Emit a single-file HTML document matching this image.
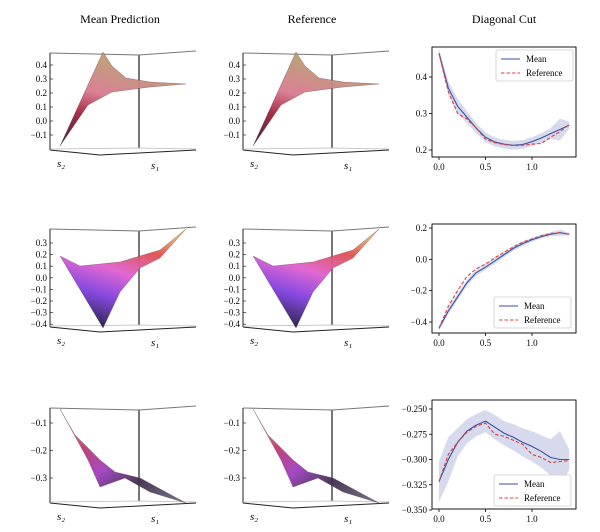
<!DOCTYPE html>
<html><head><meta charset="utf-8">
<style>
body{margin:0;background:#fff;}
svg{display:block;font-family:"Liberation Serif",serif;}
</style></head>
<body>
<svg id="fig" width="600" height="532" viewBox="0 0 600 532">
<defs>
<linearGradient id="g1" x1="0" y1="1" x2="0.3" y2="0">
<stop offset="0" stop-color="#2a2040"/><stop offset="0.35" stop-color="#a0203a"/><stop offset="0.6" stop-color="#d87a90"/><stop offset="1" stop-color="#b8a070"/>
</linearGradient>
<linearGradient id="g2" x1="0.3" y1="1" x2="0.7" y2="0">
<stop offset="0" stop-color="#201840"/><stop offset="0.3" stop-color="#8040e0"/><stop offset="0.55" stop-color="#e060d0"/><stop offset="0.8" stop-color="#e05050"/><stop offset="1" stop-color="#e0b070"/>
</linearGradient>
<linearGradient id="g3" x1="0" y1="0" x2="1" y2="1">
<stop offset="0" stop-color="#d8b890"/><stop offset="0.3" stop-color="#c03870"/><stop offset="0.5" stop-color="#a040c0"/><stop offset="0.7" stop-color="#403050"/><stop offset="1" stop-color="#707080"/>
</linearGradient>
</defs>
<text x="120" y="23" font-size="12" text-anchor="middle">Mean Prediction</text>
<text x="312" y="23" font-size="12" text-anchor="middle">Reference</text>
<text x="504" y="23" font-size="12" text-anchor="middle">Diagonal Cut</text>
<g id="surf"></g>
<g id="cuts"></g>
</svg>
<script>
// ---- Diagonal cut data ----
const xs = [0,0.1,0.2,0.3,0.4,0.5,0.6,0.7,0.8,0.9,1.0,1.1,1.2,1.3,1.4];
const mean1 = [0.465,0.37,0.32,0.29,0.26,0.235,0.222,0.216,0.213,0.215,0.223,0.233,0.245,0.256,0.268];
const ref1  = [0.465,0.36,0.30,0.285,0.26,0.23,0.22,0.215,0.212,0.213,0.216,0.218,0.235,0.25,0.27];
const std1  = [0.012,0.018,0.02,0.016,0.014,0.013,0.012,0.012,0.012,0.012,0.012,0.013,0.015,0.03,0.01];
const mean2 = [-0.44,-0.33,-0.24,-0.15,-0.085,-0.05,-0.01,0.03,0.07,0.10,0.125,0.145,0.16,0.17,0.16];
const ref2  = [-0.44,-0.30,-0.20,-0.11,-0.06,-0.03,0.01,0.045,0.08,0.11,0.13,0.15,0.165,0.17,0.16];
const std2  = [0.015,0.02,0.02,0.02,0.02,0.018,0.017,0.016,0.015,0.014,0.013,0.013,0.013,0.02,0.008];
const mean3 = [-0.322,-0.30,-0.283,-0.272,-0.266,-0.262,-0.268,-0.274,-0.278,-0.283,-0.287,-0.292,-0.298,-0.30,-0.30];
const ref3  = [-0.322,-0.295,-0.283,-0.273,-0.267,-0.264,-0.275,-0.277,-0.281,-0.285,-0.295,-0.298,-0.303,-0.302,-0.301];
const std3  = [0.02,0.022,0.014,0.012,0.011,0.011,0.012,0.012,0.013,0.014,0.015,0.016,0.018,0.028,0.01];
const xTicks = [0,0.5,1.0];
const xTickLabels = ["0.0","0.5","1.0"];
const yTicks1 = [0.2,0.3,0.4]; const yTickLabels1 = ["0.2","0.3","0.4"];
const yTicks2 = [-0.4,-0.2,0.0,0.2]; const yTickLabels2 = ["\u22120.4","\u22120.2","0.0","0.2"];
const yTicks3 = [-0.35,-0.325,-0.3,-0.275,-0.25]; const yTickLabels3 = ["\u22120.350","\u22120.325","\u22120.300","\u22120.275","\u22120.250"];
// surface z tick labels
const zTicks1 = [-0.1,0.0,0.1,0.2,0.3,0.4];
const zTicks2 = [-0.4,-0.3,-0.2,-0.1,0.0,0.1,0.2,0.3];
const zTicks3 = [-0.3,-0.2,-0.1];

const NS="http://www.w3.org/2000/svg";
function mk(tag,attrs,parent){const e=document.createElementNS(NS,tag);for(const k in attrs)e.setAttribute(k,attrs[k]);parent.appendChild(e);return e;}
function fmt(v){const s=v.toFixed(1);return v<0?"\u2212"+s.slice(1):s;}

const cuts=document.getElementById('cuts');
const panels=[
 {top:47,bot:157,y0:0.2,p0:150,y1:0.4,p1:77,mean:mean1,ref:ref1,std:std1,yt:yTicks1,yl:yTickLabels1,leg:[496,50],name:'cut-row1'},
 {top:224,bot:333,y0:-0.4,p0:322,y1:0.2,p1:228,mean:mean2,ref:ref2,std:std2,yt:yTicks2,yl:yTickLabels2,leg:[494,297],name:'cut-row2'},
 {top:400,bot:509,y0:-0.35,p0:510,y1:-0.25,p1:409,mean:mean3,ref:ref3,std:std3,yt:yTicks3,yl:yTickLabels3,leg:[494,475],name:'cut-row3'}
];
const L=432,R=576;
function xScale(v){return 439+v*93;}
panels.forEach(P=>{
 const g=mk('g',{},cuts);
 
 
 const yS=v=>P.p0+(v-P.y0)*(P.p1-P.p0)/(P.y1-P.y0);
 let up=xs.map((x,i)=>xScale(x)+','+yS(P.mean[i]+P.std[i]));
 let dn=xs.map((x,i)=>xScale(x)+','+yS(P.mean[i]-P.std[i])).reverse();
 const band=mk('polygon',{points:up.concat(dn).join(' '),fill:'#c8cde6',opacity:'0.75'},g);
 
 
 const ml=mk('polyline',{points:xs.map((x,i)=>xScale(x)+','+yS(P.mean[i])).join(' '),fill:'none',stroke:'#3a4ea0','stroke-width':1.1},g);
 
 
 const rl=mk('polyline',{points:xs.map((x,i)=>xScale(x)+','+yS(P.ref[i])).join(' '),fill:'none',stroke:'#d84040','stroke-width':1.1,'stroke-dasharray':'3.5,2'},g);
 
 
 const fr=mk('rect',{x:L,y:P.top,width:R-L,height:P.bot-P.top,fill:'none',stroke:'#000','stroke-width':0.9},g);
 
 
 xTicks.forEach((t,i)=>{
  mk('line',{x1:xScale(t),x2:xScale(t),y1:P.bot,y2:P.bot+3,stroke:'#000','stroke-width':0.8},g);
  const tx=mk('text',{x:xScale(t),y:P.bot+13,'font-size':9,'text-anchor':'middle'},g);
  tx.textContent=xTickLabels[i];
  
  
 });
 P.yt.forEach((t,i)=>{
  mk('line',{x1:L-3,x2:L,y1:yS(t),y2:yS(t),stroke:'#000','stroke-width':0.8},g);
  const tx=mk('text',{x:L-5,y:yS(t)+3,'font-size':9,'text-anchor':'end'},g);
  tx.textContent=P.yl[i];
  
  
 });
 const [lx,ly]=P.leg;
 const lg=mk('g',{},g);
 
 
 mk('rect',{x:lx,y:ly,width:77,height:31,fill:'#fff',stroke:'#ccc','stroke-width':0.8,rx:2},lg);
 mk('line',{x1:lx+5,x2:lx+24,y1:ly+9,y2:ly+9,stroke:'#3a4ea0','stroke-width':1.1},lg);
 mk('line',{x1:lx+5,x2:lx+24,y1:ly+23,y2:ly+23,stroke:'#d84040','stroke-width':1.1,'stroke-dasharray':'3.5,2'},lg);
 const t1=mk('text',{x:lx+30,y:ly+12,'font-size':9},lg);t1.textContent='Mean';
 
 
 const t2=mk('text',{x:lx+30,y:ly+26,'font-size':9},lg);t2.textContent='Reference';
 
 
});

// ---- 3D surfaces (stylized) ----
const surf=document.getElementById('surf');
const rows=[
 {oy:0,top:53,bot:150,zt:zTicks1,z0:0.4,zp0:65,dz:14.0,grad:'g1',
  poly:[[60,146],[103,52],[112,66],[126,78],[150,82],[186,84],[150,87],[112,92],[88,105]]},
 {oy:0,top:229,bot:327,zt:zTicks2,z0:0.3,zp0:243,dz:11.6,grad:'g2',
  poly:[[60,256],[80,266],[120,262],[160,250],[186,229],[160,258],[140,268],[120,292],[103,328]]},
 {oy:0,top:408,bot:503,zt:zTicks3,z0:-0.1,zp0:423,dz:27.5,grad:'g3',
  poly:[[60,409],[75,435],[100,460],[115,472],[140,478],[186,503],[150,492],[125,478],[100,487],[88,460]]}
];
[0,193].forEach((ox,col)=>{
 rows.forEach((r,ri)=>{
  const g=mk('g',{transform:'translate('+ox+',0)'},surf);
  
  
  const t=r.top,b=r.bot;
  mk('polyline',{points:`50,${t} 139,${t+2} 196,${t-2}`,fill:'none',stroke:'#777','stroke-width':1},g);
  mk('line',{x1:50,y1:t,x2:50,y2:b,stroke:'#222','stroke-width':1},g);
  mk('line',{x1:139,y1:t+2,x2:139,y2:b-2,stroke:'#777','stroke-width':2},g);
  mk('polyline',{points:`50,${b} 100,${b+5} 196,${b}`,fill:'none',stroke:'#222','stroke-width':1},g);
  mk('polyline',{points:`50,${b-1} 139,${b-2} 196,${b-1}`,fill:'none',stroke:'#bbb','stroke-width':0.8},g);
  const s=mk('polygon',{points:r.poly.map(p=>p.join(',')).join(' '),fill:'url(#'+r.grad+')',stroke:'#553344','stroke-width':0.3,opacity:'0.95'},g);
  
  
  r.zt.forEach(z=>{
   const y=r.zp0+(r.z0-z)/0.1*r.dz;
   mk('line',{x1:50,x2:53,y1:y,y2:y,stroke:'#222','stroke-width':0.7},g);
   const tx=mk('text',{x:47,y:y+3,'font-size':9,'text-anchor':'end'},g);
   tx.textContent=fmt(z);
   
   
  });
  const a=mk('text',{x:57,y:b+17,'font-size':11,'font-style':'italic'},g);
  a.textContent='s\u2082';
  
  
  const c=mk('text',{x:151,y:b+19,'font-size':11,'font-style':'italic'},g);
  c.textContent='s\u2081';
  
  
 });
});
</script>
</body></html>
